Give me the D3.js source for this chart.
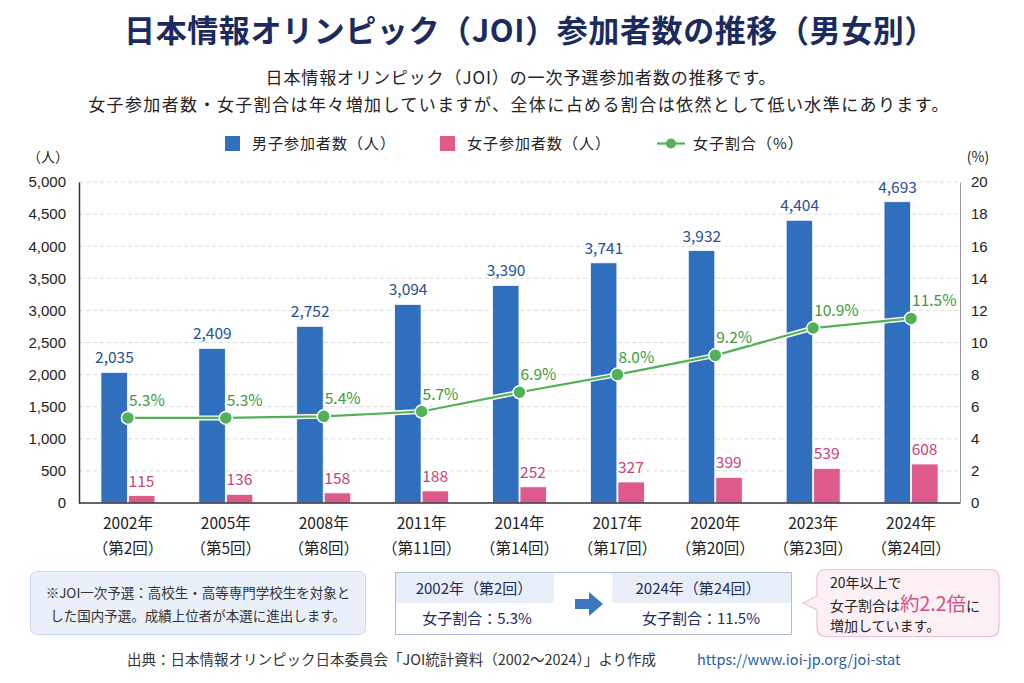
<!DOCTYPE html>
<html>
<head>
<meta charset="utf-8">
<script src="https://cdn.jsdelivr.net/npm/d3@7"></script>
<style>
  body { margin: 0; background: #fff; }
  svg { display: block; font-family: "Noto Sans CJK JP", "Noto Sans", sans-serif; }
</style>
</head>
<body>
<div id="chart"></div>
<script>
// data
var years = ["2002年", "2005年", "2008年", "2011年", "2014年", "2017年", "2020年", "2023年", "2024年"];
var rounds = ["（第2回）", "（第5回）", "（第8回）", "（第11回）", "（第14回）", "（第17回）", "（第20回）", "（第23回）", "（第24回）"];
var boys = [2035, 2409, 2752, 3094, 3390, 3741, 3932, 4404, 4693];
var girls = [115, 136, 158, 188, 252, 327, 399, 539, 608];
var ratio = [5.3, 5.3, 5.4, 5.7, 6.9, 8.0, 9.2, 10.9, 11.5];
var leftTicks = [0, 500, 1000, 1500, 2000, 2500, 3000, 3500, 4000, 4500, 5000];
var rightTicks = [0, 2, 4, 6, 8, 10, 12, 14, 16, 18, 20];

const W = 1024, H = 683;
const margin = { top: 182, right: 64, bottom: 180, left: 79 };
const blue = '#2f6fbd', pink = '#de5a8c', green = '#52b157';
const navy = '#1b2b60';

var svg = d3.select('#chart').append('svg')
  .attr('width', W)
  .attr('height', H);

// title + subtitle
svg.append('text')
  .attr('x', 530).attr('y', 42)
  .attr('text-anchor', 'middle')
  .style('font-size', '31px').style('font-weight', 'bold')
  .style('letter-spacing', '0.6px')
  .style('fill', navy)
  .text('日本情報オリンピック（JOI）参加者数の推移（男女別）');
svg.append('text')
  .attr('x', 521).attr('y', 84)
  .attr('text-anchor', 'middle')
  .style('font-size', '17px').style('fill', '#222').style('letter-spacing', '0.9px')
  .text('日本情報オリンピック（JOI）の一次予選参加者数の推移です。');
svg.append('text')
  .attr('x', 519).attr('y', 111)
  .attr('text-anchor', 'middle')
  .style('font-size', '17px').style('fill', '#222').style('letter-spacing', '1.4px')
  .text('女子参加者数・女子割合は年々増加していますが、全体に占める割合は依然として低い水準にあります。');

// scales
var x = d3.scaleBand()
  .domain(years)
  .range([margin.left, W - margin.right])
  .paddingInner(0).paddingOuter(0);
var sub = d3.scaleBand()
  .domain(['m', 'f'])
  .range([-27, 27]);
var yL = d3.scaleLinear().domain([0, 5000]).range([H - margin.bottom, margin.top]);
var yR = d3.scaleLinear().domain([0, 20]).range([H - margin.bottom, margin.top]);
var base = yL(0);
function cx(i) { return x(years[i]) + x.bandwidth() / 2; }

// grid
svg.append('g').selectAll('line')
  .data(leftTicks.slice(1))
  .enter().append('line')
  .attr('x1', margin.left).attr('x2', W - margin.right)
  .attr('y1', d => yL(d)).attr('y2', d => yL(d))
  .style('stroke', '#dcdcdc').style('stroke-dasharray', '4,3');

// left axis
var lAxis = d3.axisLeft(yL).tickValues(leftTicks).tickFormat(d3.format(',')).tickSize(0).tickPadding(13);
var lg = svg.append('g').attr('transform', 'translate(' + margin.left + ',0)').call(lAxis);
lg.select('.domain').style('stroke', '#333').style('stroke-width', 1.5);
lg.selectAll('text').style('font-size', '15px').style('fill', '#222').style('font-family', 'inherit');

// right axis
var rAxis = d3.axisRight(yR).tickValues(rightTicks).tickSize(0).tickPadding(11);
var rg = svg.append('g').attr('transform', 'translate(' + (W - margin.right) + ',0)').call(rAxis);
rg.select('.domain').style('stroke', '#999').style('stroke-width', 1);
rg.selectAll('text').style('font-size', '15px').style('fill', '#222').style('font-family', 'inherit');

svg.append('text').attr('x', 48).attr('y', 162).attr('text-anchor', 'middle')
  .style('font-size', '14px').style('fill', '#222').text('（人）');
svg.append('text').attr('x', 978).attr('y', 162).attr('text-anchor', 'middle')
  .style('font-size', '14px').style('fill', '#222').text('(%)');

// bars
var bars = svg.append('g');
bars.selectAll('.boy')
  .data(boys)
  .enter().append('rect')
  .attr('class', 'boy')
  .attr('x', (d, i) => cx(i) + sub('m'))
  .attr('width', sub.bandwidth() - 0.5)
  .attr('y', d => yL(d))
  .attr('height', d => base - yL(d))
  .style('fill', blue).style('stroke', '#fff').style('stroke-width', 0.8);
bars.selectAll('.girl')
  .data(girls)
  .enter().append('rect')
  .attr('class', 'girl')
  .attr('x', (d, i) => cx(i) + sub('f') + 0.5)
  .attr('width', sub.bandwidth() - 0.5)
  .attr('y', d => yL(d))
  .attr('height', d => base - yL(d))
  .style('fill', pink).style('stroke', '#fff').style('stroke-width', 0.8);

// bottom axis line
svg.append('line')
  .attr('x1', margin.left).attr('x2', W - margin.right)
  .attr('y1', base).attr('y2', base)
  .style('stroke', '#333').style('stroke-width', 1.5);

// value labels
svg.append('g').selectAll('text')
  .data(boys)
  .enter().append('text')
  .attr('x', (d, i) => cx(i) + sub('m') + sub.bandwidth() / 2)
  .attr('y', d => yL(d) - 9)
  .attr('text-anchor', 'middle')
  .style('font-size', '15.5px').style('fill', '#24509c')
  .text(d => d3.format(',')(d));
svg.append('g').selectAll('text')
  .data(girls)
  .enter().append('text')
  .attr('x', (d, i) => cx(i) + sub('f') + sub.bandwidth() / 2)
  .attr('y', d => yL(d) - 9)
  .attr('text-anchor', 'middle')
  .style('font-size', '15.5px').style('fill', '#c8447a')
  .style('stroke', '#fff').style('stroke-width', 3).style('paint-order', 'stroke')
  .text(d => d);

// ratio line
var line = d3.line()
  .x((d, i) => cx(i))
  .y(d => yR(d));
svg.append('path').datum(ratio)
  .attr('d', line)
  .style('fill', 'none').style('stroke', '#fff').style('stroke-width', 5);
svg.append('path').datum(ratio)
  .attr('d', line)
  .style('fill', 'none').style('stroke', green).style('stroke-width', 2.2);
svg.append('g').selectAll('circle')
  .data(ratio)
  .enter().append('circle')
  .attr('cx', (d, i) => cx(i))
  .attr('cy', d => yR(d))
  .attr('r', 6.5)
  .style('fill', green).style('stroke', '#fff').style('stroke-width', 1.5);
svg.append('g').selectAll('text')
  .data(ratio)
  .enter().append('text')
  .attr('x', (d, i) => cx(i) + 1)
  .attr('y', d => yR(d) - 12)
  .style('font-size', '15.5px').style('fill', '#3a9a3f')
  .style('stroke', '#fff').style('stroke-width', 4).style('paint-order', 'stroke')
  .text(d => d.toFixed(1) + '%');

// x labels
var xl = svg.append('g');
xl.selectAll('.yr').data(years).enter().append('text')
  .attr('x', (d, i) => cx(i)).attr('y', 529)
  .attr('text-anchor', 'middle')
  .style('font-size', '15.5px').style('fill', '#222')
  .text(d => d);
xl.selectAll('.rd').data(rounds).enter().append('text')
  .attr('x', (d, i) => cx(i)).attr('y', 554)
  .attr('text-anchor', 'middle')
  .style('font-size', '15.5px').style('fill', '#222')
  .text(d => d);

// legend
var leg = svg.append('g').style('font-size', '15px').style('fill', '#222').style('letter-spacing', '1px');
leg.append('rect').attr('x', 225).attr('y', 136).attr('width', 15).attr('height', 15).style('fill', blue);
leg.append('text').attr('x', 252).attr('y', 149).text('男子参加者数（人）');
leg.append('rect').attr('x', 440).attr('y', 136).attr('width', 15).attr('height', 15).style('fill', pink);
leg.append('text').attr('x', 467).attr('y', 149).text('女子参加者数（人）');
leg.append('line').attr('x1', 657).attr('x2', 685).attr('y1', 143.5).attr('y2', 143.5)
  .style('stroke', green).style('stroke-width', 2.2);
leg.append('circle').attr('cx', 671).attr('cy', 143.5).attr('r', 5).style('fill', green);
leg.append('text').attr('x', 693).attr('y', 149).text('女子割合（%）');

// note box
var note = svg.append('g');
note.append('rect').attr('x', 30.5).attr('y', 571.5).attr('width', 335).attr('height', 63).attr('rx', 6)
  .style('fill', '#e9f0f9').style('stroke', '#c9d8ec');
note.append('text').attr('x', 198).attr('y', 598).attr('text-anchor', 'middle')
  .style('font-size', '13.5px').style('fill', '#333')
  .text('※JOI一次予選：高校生・高等専門学校生を対象と');
note.append('text').attr('x', 198).attr('y', 621).attr('text-anchor', 'middle')
  .style('font-size', '13.5px').style('fill', '#333')
  .text('した国内予選。成績上位者が本選に進出します。');

// comparison box
var cmp = svg.append('g');
cmp.append('rect').attr('x', 396).attr('y', 573).attr('width', 158).attr('height', 30).style('fill', '#e7eef8');
cmp.append('rect').attr('x', 612).attr('y', 573).attr('width', 179).attr('height', 30).style('fill', '#e7eef8');
cmp.append('rect').attr('x', 395.5).attr('y', 572.5).attr('width', 396).attr('height', 62)
  .style('fill', 'none').style('stroke', '#a9bdd8');
cmp.append('text').attr('x', 474).attr('y', 594).attr('text-anchor', 'middle')
  .style('font-size', '15px').style('fill', navy).text('2002年（第2回）');
cmp.append('text').attr('x', 477).attr('y', 624).attr('text-anchor', 'middle')
  .style('font-size', '15px').style('fill', navy).text('女子割合：' + ratio[0] + '%');
cmp.append('text').attr('x', 698).attr('y', 594).attr('text-anchor', 'middle')
  .style('font-size', '15px').style('fill', navy).text('2024年（第24回）');
cmp.append('text').attr('x', 701).attr('y', 624).attr('text-anchor', 'middle')
  .style('font-size', '15px').style('fill', navy).text('女子割合：' + ratio[8] + '%');
cmp.append('path')
  .attr('d', 'M575,599 L589,599 L589,592 L603,604 L589,616 L589,609 L575,609 Z')
  .style('fill', '#3b76c0');

// callout bubble
var bub = svg.append('g');
bub.append('path')
  .attr('d', 'M826,569.5 L990,569.5 Q999,569.5 999,578.5 L999,627.5 Q999,636.5 990,636.5 L826,636.5 Q817,636.5 817,627.5 L817,610 L803,603 L817,596 L817,578.5 Q817,569.5 826,569.5 Z')
  .style('fill', '#fdf0f4').style('stroke', '#f1bccd').style('stroke-width', 1.2);
bub.append('text').attr('x', 830).attr('y', 588)
  .style('font-size', '14px').style('fill', '#222').text('20年以上で');
var t2 = bub.append('text').attr('x', 830).attr('y', 611)
  .style('font-size', '14px').style('fill', '#222');
t2.append('tspan').text('女子割合は');
t2.append('tspan').style('font-size', '19.5px').style('fill', '#d94b84').text('約2.2倍');
t2.append('tspan').text('に');
bub.append('text').attr('x', 830).attr('y', 631)
  .style('font-size', '14px').style('fill', '#222').text('増加しています。');

// source
svg.append('text').attr('x', 127).attr('y', 665)
  .style('font-size', '14.5px').style('fill', '#333')
  .text('出典：日本情報オリンピック日本委員会「JOI統計資料（2002～2024）」より作成');
svg.append('text').attr('x', 697).attr('y', 665)
  .style('font-size', '14.5px').style('fill', '#2a5ca8')
  .text('https://www.ioi-jp.org/joi-stat');
</script>
</body>
</html>
